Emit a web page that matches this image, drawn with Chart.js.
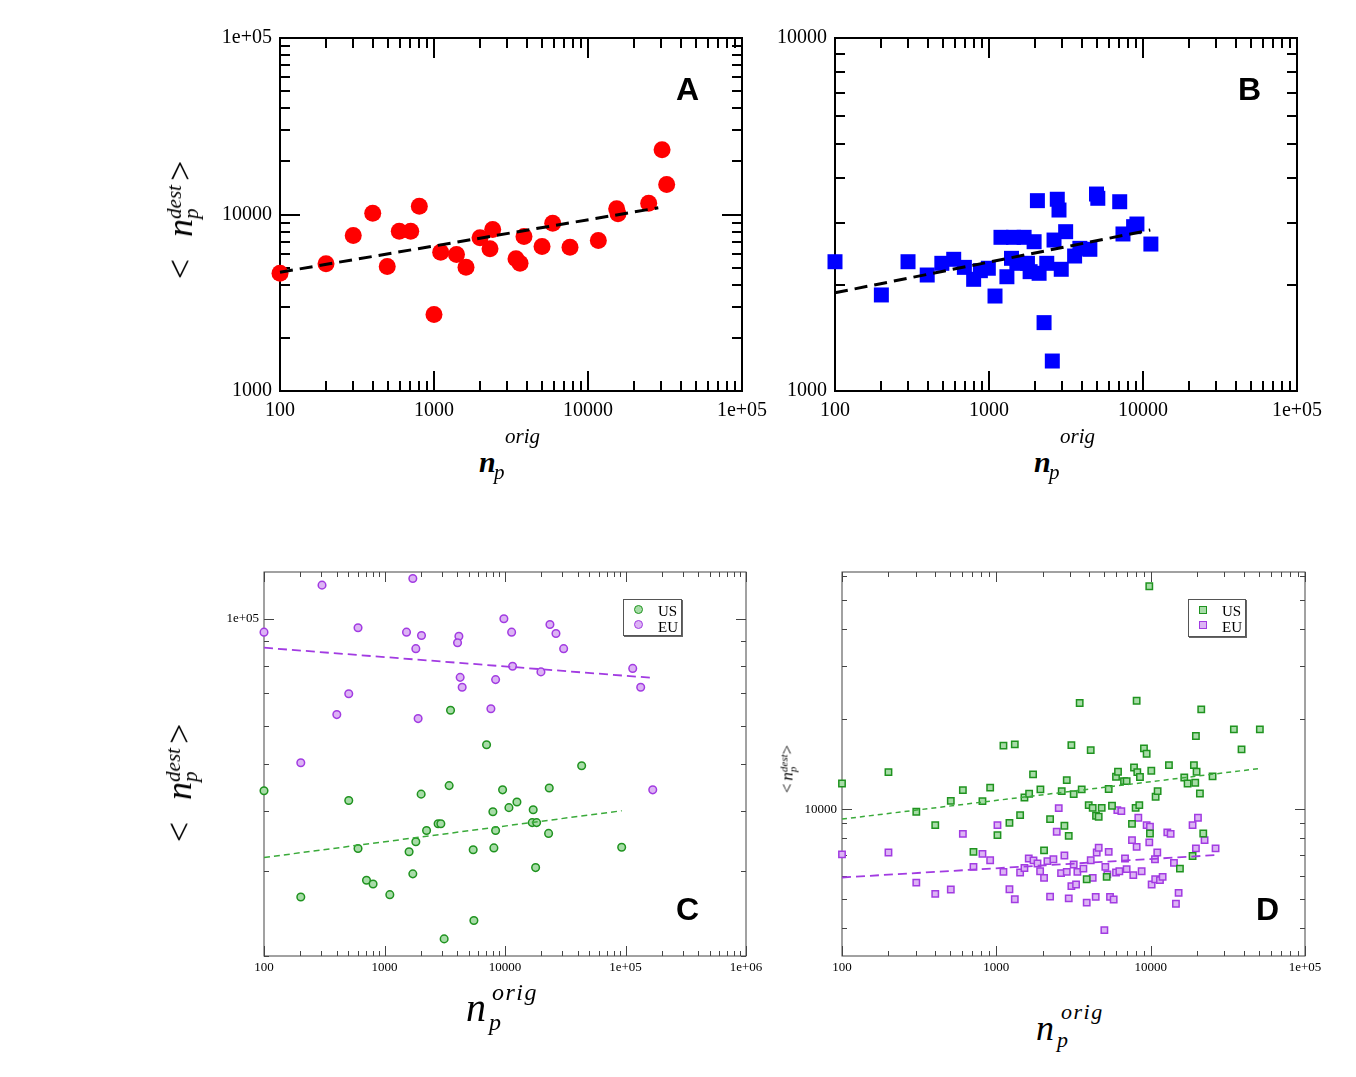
<!DOCTYPE html>
<html>
<head>
<meta charset="utf-8">
<title>n_p dest vs n_p orig</title>
<script src="https://cdn.jsdelivr.net/npm/chart.js@4.4.1/dist/chart.umd.min.js"></script>
<style>
  body { margin: 0; background: #fff; width: 1356px; height: 1077px; position: relative; overflow: hidden;
         font-family: "Liberation Serif", "Times New Roman", serif; color: #000; }
  .panel { position: absolute; }
  .t { position: absolute; line-height: 1; white-space: nowrap; z-index: 5; }
  .letter { font-family: "Liberation Sans", Arial, sans-serif; font-weight: bold; }
  .yt { position: absolute; white-space: nowrap; transform: translate(-50%, -50%) rotate(-90deg); z-index: 5; }
  .ss { display: inline-flex; flex-direction: column; }
  .legend { position: absolute; border: 1px solid #555; box-shadow: 1px 1px 0 #666; background: #fff; z-index: 5; }
  .legend .mk { position: absolute; box-sizing: border-box; }
  .legend .lt { position: absolute; font-size: 15px; line-height: 1; }
</style>
</head>
<body>

<div class="panel" id="panelA"><canvas id="chartA"></canvas></div>
<div class="panel" id="panelB"><canvas id="chartB"></canvas></div>
<div class="panel" id="panelC"><canvas id="chartC"></canvas></div>
<div class="panel" id="panelD"><canvas id="chartD"></canvas></div>

<!-- rotated y titles -->
<div class="yt" style="left:181px;top:220px;font-size:36px;line-height:36px">&lt;<i style="margin-left:22px">n</i><span class="ss" style="font-size:21px;line-height:17px;vertical-align:11px"><i>dest</i><i>p</i></span><span style="margin-left:4px">&gt;</span></div>
<div class="yt" style="left:180px;top:783px;font-size:36px;line-height:36px">&lt;<i style="margin-left:22px">n</i><span class="ss" style="font-size:21px;line-height:17px;vertical-align:11px"><i>dest</i><i>p</i></span><span style="margin-left:4px">&gt;</span></div>
<div class="yt" style="left:788px;top:769px;font-size:17px;line-height:17px">&lt;<i style="margin-left:3px">n</i><span class="ss" style="font-size:11px;line-height:9px;vertical-align:5px"><i>dest</i><i>p</i></span>&gt;</div>

<!-- legends -->
<div class="legend" style="left:623px;top:599px;width:57px;height:35px">
  <div class="mk" style="left:10px;top:5px;width:9px;height:9px;border-radius:50%;border:1.5px solid #1f931f;background:#a8dca8"></div>
  <div class="lt" style="left:34px;top:4px">US</div>
  <div class="mk" style="left:10px;top:20px;width:9px;height:9px;border-radius:50%;border:1.5px solid #a23be2;background:#dcb4f4"></div>
  <div class="lt" style="left:34px;top:20px">EU</div>
</div>
<div class="legend" style="left:1188px;top:599px;width:56px;height:36px">
  <div class="mk" style="left:10px;top:6px;width:8px;height:8px;border:1.5px solid #1f931f;background:#a8dca8"></div>
  <div class="lt" style="left:33px;top:4px">US</div>
  <div class="mk" style="left:10px;top:21px;width:8px;height:8px;border:1.5px solid #a23be2;background:#dcb4f4"></div>
  <div class="lt" style="left:33px;top:20px">EU</div>
</div>

<script>
// ---- panel A : circles + fit ----
const aX = [100, 199, 299, 400, 497, 595, 706, 803, 1000, 1105, 1400, 1614, 1990, 2405, 2310, 3407, 3620, 3840, 5030, 5900, 7640, 11670, 15350, 15660, 24780, 30260, 32430];
const aY = [4650, 5260, 7600, 10170, 5070, 8040, 8040, 11140, 2710, 6110, 5930, 5030, 7380, 8220, 6390, 5610, 5300, 7500, 6590, 8930, 6530, 7120, 10770, 10090, 11590, 23260, 14790];
const aFitX = [100, 28600];
const aFitY = [4710, 10910];

// ---- panel B : squares + fit ----
const bX = [100, 200, 298, 397, 494, 590, 692, 795, 879, 990, 1094, 1196, 1307, 1400, 1442, 1517, 1690, 1777, 1849, 1963, 2062, 2115, 2278, 2372, 2577, 2644, 2776, 2848, 2945, 3146, 3597, 3891, 4518, 4990, 5088, 7060, 7413, 8690, 9133, 11250];
const bY = [2324, 1871, 2324, 2131, 2300, 2361, 2240, 2072, 2192, 2227, 1858, 2725, 2107, 2376, 2725, 2300, 2725, 2300, 2178, 2648, 3461, 2155, 1562, 2300, 1216, 2677, 3493, 3256, 2212, 2827, 2412, 2536, 2520, 3614, 3515, 3437, 2785, 2921, 2972, 2608];
const bFitX = [100, 11150];
const bFitY = [1898, 2858];

// ---- panel C : US / EU circles ----
const cUsX = [100, 202, 505, 603, 709, 804, 1107, 1600, 1820, 1718, 2014, 2234, 2786, 2935, 3440, 3532, 3126, 5445, 5518, 7031, 7933, 8087, 8357, 9550, 10780, 12560, 17140, 16820, 18300, 17950, 23290, 23000, 43270, 92960];
const cUsY = [44000, 26500, 42000, 33400, 28700, 28200, 26800, 32900, 34500, 29600, 43300, 36400, 37600, 37600, 45100, 64600, 21700, 33200, 23700, 54800, 39800, 33500, 36400, 44200, 40600, 41700, 40200, 37800, 37800, 30500, 44600, 35900, 49600, 33600];
const cEuX = [100, 303, 1718, 603, 1523, 2028, 1820, 4143, 4038, 9790, 11350, 23600, 26480, 30670, 11560, 19870, 114800, 133700, 4245, 4411, 8357, 505, 402, 1901, 7638, 202, 168300];
const cEuY = [93800, 117400, 121200, 95800, 93800, 92300, 86700, 92000, 89200, 100000, 93800, 97300, 93200, 86700, 79700, 77600, 78900, 72100, 75600, 72100, 74800, 69900, 63300, 62100, 65100, 50300, 44200];
const cUsFitX = [100, 92960];
const cUsFitY = [32000, 40000];
const cEuFitX = [100, 170200];
const cEuFitY = [87100, 75400];

// ---- panel D : US / EU squares ----
const dUsX = [100, 200, 303, 402, 507, 607, 711, 813, 912, 1017, 1112, 1216, 1317, 1426, 1521, 1631, 1730, 1930, 2038, 2230, 2653, 2761, 2860, 2945, 3064, 3172, 3468, 3574, 3851, 3968, 4088, 4211, 4426, 4605, 4815, 5188, 5346, 5617, 5963, 6143, 6718, 6988, 7568, 7800, 7991, 8112, 8193, 8440, 8524, 9049, 9417, 9797, 9897, 10095, 10768, 11094, 13136, 15474, 16508, 17348, 18687, 19065, 19447, 19640, 19837, 20850, 21268, 21915, 25182, 34610, 38800, 50990];
const dUsY = [12180, 13300, 9800, 8840, 10660, 11570, 7200, 10630, 11800, 8190, 16300, 9000, 16450, 9550, 10940, 11260, 13060, 11640, 7280, 9260, 11490, 8800, 12500, 8140, 16370, 11220, 22620, 11640, 5830, 10310, 15750, 10100, 9500, 9430, 10100, 5940, 11670, 10260, 12830, 13330, 12410, 12410, 8930, 13780, 10100, 23030, 13300, 10310, 12800, 15960, 15310, 55540, 8290, 13440, 11000, 11490, 14030, 6330, 12760, 12180, 6970, 14030, 12250, 17550, 13330, 11280, 21540, 8290, 12860, 18470, 15840, 18470];
const dEuX = [100, 200, 303, 402, 507, 607, 711, 813, 912, 1017, 1112, 1216, 1317, 1426, 1521, 1622, 1741, 1848, 1922, 2038, 2143, 2230, 2343, 2462, 2537, 2627, 2761, 2860, 2945, 3064, 3172, 3285, 3351, 3665, 3851, 4088, 4211, 4404, 4471, 4605, 5012, 5086, 5241, 5346, 5453, 5758, 5963, 6083, 6267, 6457, 6819, 6988, 7568, 7719, 8112, 8317, 8739, 9417, 9797, 9897, 10146, 10664, 10700, 11038, 11487, 11955, 12818, 13470, 14153, 14580, 15173, 18687, 19640, 20245, 22354, 26337];
const dEuY = [7060, 7160, 5680, 5210, 5390, 8270, 6410, 7090, 6750, 8840, 6170, 5400, 5000, 6140, 6360, 6840, 6740, 6580, 6200, 5890, 6700, 5100, 6800, 8400, 10080, 6110, 7000, 6170, 5030, 5530, 6530, 5600, 6170, 6330, 4870, 6750, 5890, 5090, 7160, 7430, 3940, 6410, 6050, 7200, 5090, 4990, 6140, 9920, 6200, 9850, 6840, 6300, 7880, 6020, 7480, 9360, 6200, 8840, 7740, 8730, 5600, 6800, 5830, 7160, 5790, 5940, 8360, 8270, 6610, 4830, 5250, 8840, 7390, 9360, 7880, 7390];
const dUsFitX = [100, 51500];
const dUsFitY = [9260, 13680];
const dEuFitX = [100, 26340];
const dEuFitY = [5910, 7020];

// ---- tick labels ----
const xTicksAB = [100, 1000, 10000, 100000];
const xLabelsAB = ["100", "1000", "10000", "1e+05"];
const yTicksA = [1000, 10000, 100000];
const yLabelsA = ["1000", "10000", "1e+05"];
const yTicksB = [1000, 10000];
const yLabelsB = ["1000", "10000"];
const xTicksC = [100, 1000, 10000, 100000, 1000000];
const xLabelsC = ["100", "1000", "10000", "1e+05", "1e+06"];
const yTicksC = [100000];
const yLabelsC = ["1e+05"];
const xTicksD = [100, 1000, 10000, 100000];
const xLabelsD = ["100", "1000", "10000", "1e+05"];
const yTicksD = [10000];
const yLabelsD = ["10000"];

const GREEN = "#1f931f", GREEN_FILL = "#a8dca8";
const PURPLE = "#a23be2", PURPLE_FILL = "#dcb4f4";

function pts(xs, ys) {
  return xs.map((x, i) => ({ x: x, y: ys[i] }));
}

// all 1..9 x 10^n positions inside [min, max]
function logSteps(min, max) {
  const out = [];
  for (let e = Math.floor(Math.log10(min)); e <= Math.ceil(Math.log10(max)); e++) {
    for (let k = 1; k < 10; k++) {
      const v = k * Math.pow(10, e);
      if (v >= min * 0.999 && v <= max * 1.001) out.push({ v: v, major: k === 1 });
    }
  }
  return out;
}

// xmgrace-like frame with inward ticks on all four sides
const framePlugin = {
  id: "frame",
  beforeDatasetsDraw(chart, args, o) {
    const { ctx, chartArea: a } = chart;
    const { x, y } = chart.scales;
    const off = o.width % 2 ? 0.5 : 0;
    ctx.save();
    ctx.strokeStyle = o.color;
    ctx.lineWidth = o.width;
    ctx.beginPath();
    logSteps(x.min, x.max).forEach(t => {
      const p = Math.round(x.getPixelForValue(t.v)) + off;
      const len = t.major ? o.major : o.minor;
      ctx.moveTo(p, a.bottom); ctx.lineTo(p, a.bottom - len);
      ctx.moveTo(p, a.top); ctx.lineTo(p, a.top + len);
    });
    logSteps(y.min, y.max).forEach(t => {
      const p = Math.round(y.getPixelForValue(t.v)) + off;
      const len = t.major ? o.major : o.minor;
      ctx.moveTo(a.left, p); ctx.lineTo(a.left + len, p);
      ctx.moveTo(a.right, p); ctx.lineTo(a.right - len, p);
    });
    ctx.stroke();
    ctx.strokeRect(a.left, a.top, a.right - a.left, a.bottom - a.top);
    ctx.restore();
  }
};

function axis(dir, ax) {
  return {
    type: "logarithmic",
    position: dir === "x" ? "bottom" : "left",
    min: ax.min,
    max: ax.max,
    grid: { display: false, drawTicks: false, tickLength: 0 },
    border: { display: false },
    afterBuildTicks: s => { s.ticks = ax.ticks.map(v => ({ value: v })); },
    afterFit: s => { if (dir === "x") s.height = ax.size; else s.width = ax.size; },
    ticks: {
      autoSkip: false,
      maxRotation: 0,
      padding: ax.pad,
      color: "#000",
      font: { family: "Liberation Serif", size: ax.font },
      callback: (v, i) => ax.labels[i]
    }
  };
}

function panel(id, box, datasets, xAx, yAx, frame) {
  const wrap = document.getElementById("panel" + id);
  wrap.style.left = box.left + "px";
  wrap.style.top = box.top + "px";
  wrap.style.width = box.width + "px";
  wrap.style.height = box.height + "px";
  return new Chart(document.getElementById("chart" + id), {
    type: "scatter",
    data: { datasets: datasets },
    options: {
      responsive: true,
      maintainAspectRatio: false,
      animation: false,
      layout: { padding: { left: 0, top: 20, right: box.right, bottom: 0 } },
      plugins: { legend: { display: false }, tooltip: { enabled: false }, frame: frame },
      scales: { x: axis("x", xAx), y: axis("y", yAx) }
    },
    plugins: [framePlugin]
  });
}

function fitLine(xs, ys, color, width, dash) {
  return { data: pts(xs, ys), showLine: true, borderColor: color, borderWidth: width,
           borderDash: dash, pointRadius: 0, clip: false };
}

function marks(xs, ys, style, r, fill, stroke, bw) {
  return { data: pts(xs, ys), pointStyle: style, pointRadius: r,
           pointBackgroundColor: fill, pointBorderColor: stroke, pointBorderWidth: bw, clip: false };
}

const bigFrame = { color: "#000", width: 2, major: 20, minor: 10 };
const thinFrame = { color: "#444", width: 1, major: 10, minor: 5 };

panel("A", { left: 190, top: 18, width: 592, height: 413, right: 40 }, [
  fitLine(aFitX, aFitY, "#000", 3, [13, 7]),
  marks(aX, aY, "circle", 8.5, "#ff0000", "#ff0000", 0)
], { min: 100, max: 100000, ticks: xTicksAB, labels: xLabelsAB, size: 40, pad: 8, font: 20 },
   { min: 1000, max: 100000, ticks: yTicksA, labels: yLabelsA, size: 90, pad: 8, font: 20 }, bigFrame);

panel("B", { left: 745, top: 18, width: 592, height: 413, right: 40 }, [
  fitLine(bFitX, bFitY, "#000", 3, [13, 7]),
  marks(bX, bY, "rect", 10.6, "#0000ff", "#0000ff", 0)
], { min: 100, max: 100000, ticks: xTicksAB, labels: xLabelsAB, size: 40, pad: 8, font: 20 },
   { min: 1000, max: 10000, ticks: yTicksB, labels: yLabelsB, size: 90, pad: 8, font: 20 }, bigFrame);

panel("C", { left: 200, top: 552, width: 576, height: 434, right: 30 }, [
  fitLine(cEuFitX, cEuFitY, PURPLE, 1.8, [9, 5]),
  fitLine(cUsFitX, cUsFitY, "#3aaa3a", 1.5, [6, 4]),
  marks(cUsX, cUsY, "circle", 3.8, GREEN_FILL, GREEN, 1.5),
  marks(cEuX, cEuY, "circle", 3.8, PURPLE_FILL, PURPLE, 1.5)
], { min: 100, max: 1000000, ticks: xTicksC, labels: xLabelsC, size: 30, pad: 4, font: 13 },
   { min: 20000, max: 125000, ticks: yTicksC, labels: yLabelsC, size: 64, pad: 5, font: 13 }, thinFrame);

panel("D", { left: 790, top: 552, width: 545, height: 434, right: 30 }, [
  fitLine(dUsFitX, dUsFitY, "#3aaa3a", 1.5, [5, 4]),
  fitLine(dEuFitX, dEuFitY, PURPLE, 1.8, [9, 5]),
  marks(dUsX, dUsY, "rect", 4.5, GREEN_FILL, GREEN, 1.5),
  marks(dEuX, dEuY, "rect", 4.5, PURPLE_FILL, PURPLE, 1.5)
], { min: 100, max: 100000, ticks: xTicksD, labels: xLabelsD, size: 30, pad: 4, font: 13 },
   { min: 3230, max: 62000, ticks: yTicksD, labels: yLabelsD, size: 52, pad: 5, font: 13 }, thinFrame);

// axis titles and panel letters (left edge, baseline)
function put(x, base, size, html, cls) {
  const el = document.createElement("div");
  el.className = "t" + (cls ? " " + cls : "");
  el.style.left = x + "px";
  el.style.top = (base - 0.84 * size) + "px";
  el.style.fontSize = size + "px";
  el.innerHTML = html;
  document.body.appendChild(el);
}

put(479, 472, 30, "<b><i>n</i></b>");
put(494, 480, 21, "<i>p</i>");
put(505, 444, 21, "<i>orig</i>");
put(1034, 472, 30, "<b><i>n</i></b>");
put(1049, 480, 21, "<i>p</i>");
put(1060, 444, 21, "<i>orig</i>");

put(466, 1022, 40, "<i>n</i>");
put(489, 1030, 24, "<i>p</i>");
put(492, 1000, 24, "<i style='letter-spacing:1.5px'>orig</i>");
put(1036, 1040, 36, "<i>n</i>");
put(1057, 1047, 22, "<i>p</i>");
put(1061, 1019, 22, "<i style='letter-spacing:1.5px'>orig</i>");

put(676, 100, 32, "A", "letter");
put(1238, 100, 32, "B", "letter");
put(676, 920, 32, "C", "letter");
put(1256, 920, 32, "D", "letter");
</script>
</body>
</html>
